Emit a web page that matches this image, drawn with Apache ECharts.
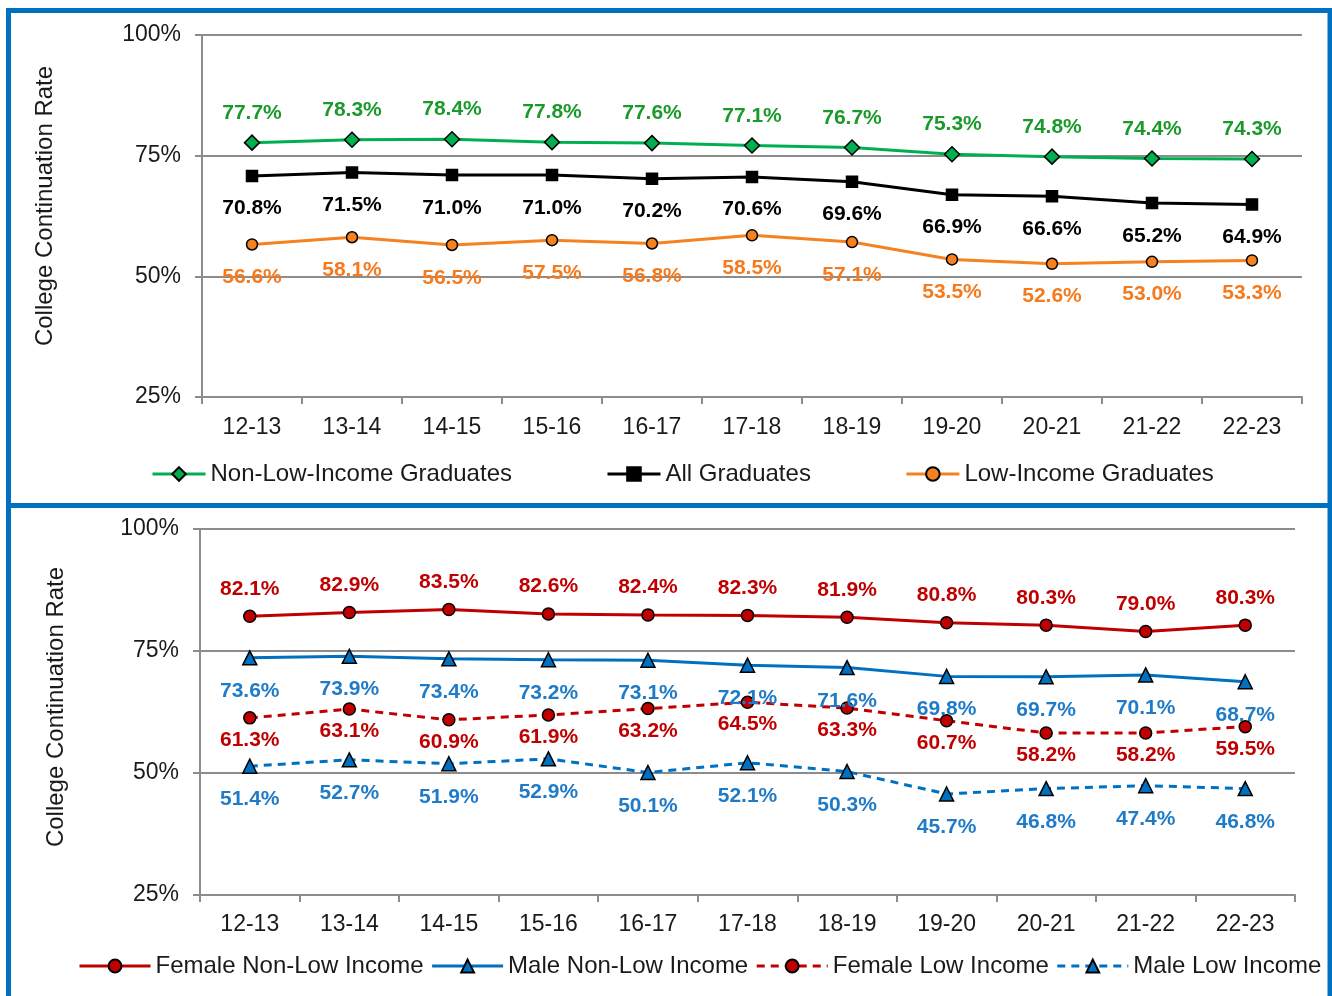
<!DOCTYPE html>
<html><head><meta charset="utf-8">
<script src="https://cdn.jsdelivr.net/npm/echarts@6/dist/echarts.min.js"></script>
<style>html,body{margin:0;padding:0;background:#fff}#c{width:1332px;height:996px}</style>
</head><body><div id="c"></div>
<script>
const categories = ['12-13','13-14','14-15','15-16','16-17','17-18','18-19','19-20','20-21','21-22','22-23'];
const yTicks = [25, 50, 75, 100];
const nonLowIncome = [77.7,78.3,78.4,77.8,77.6,77.1,76.7,75.3,74.8,74.4,74.3];
const allGraduates = [70.8,71.5,71.0,71.0,70.2,70.6,69.6,66.9,66.6,65.2,64.9];
const lowIncome = [56.6,58.1,56.5,57.5,56.8,58.5,57.1,53.5,52.6,53.0,53.3];
const femaleNonLow = [82.1,82.9,83.5,82.6,82.4,82.3,81.9,80.8,80.3,79.0,80.3];
const maleNonLow = [73.6,73.9,73.4,73.2,73.1,72.1,71.6,69.8,69.7,70.1,68.7];
const femaleLow = [61.3,63.1,60.9,61.9,63.2,64.5,63.3,60.7,58.2,58.2,59.5];
const maleLow = [51.4,52.7,51.9,52.9,50.1,52.1,50.3,45.7,46.8,47.4,46.8];

const FONT = '"Liberation Sans", Arial, sans-serif';
const GRAY = '#8c8c8c';
const chart = echarts.init(document.getElementById('c'));

function xAxis(gi,m){
  return {type:'category', gridIndex:gi, data:categories, boundaryGap:true,
    axisLine:{lineStyle:{color:GRAY,width:2}},
    axisTick:{show:true,length:7,lineStyle:{color:GRAY,width:2}},
    axisLabel:{fontFamily:FONT,fontSize:23,color:'#1a1a1a',margin:m}};
}
function yAxis(gi,gap,shift){
  return {type:'value', gridIndex:gi, min:yTicks[0], max:yTicks[yTicks.length-1], interval:25,
    name:'College Continuation Rate', nameLocation:'middle', nameGap:gap, nameRotate:90,
    nameTextStyle:{fontFamily:FONT,fontSize:24,color:'#1a1a1a',padding:[0,0,0,shift]},
    axisLine:{show:true,lineStyle:{color:GRAY,width:2}},
    axisTick:{show:true,length:7,lineStyle:{color:GRAY,width:2}},
    splitLine:{lineStyle:{color:GRAY,width:2}},
    axisLabel:{fontFamily:FONT,fontSize:23,color:'#1a1a1a',margin:21,formatter:'{value}%'}};
}
function ser(name,data,gi,color,labelColor,symbol,size,pos,dist,dashed){
  return {name, type:'line', data, xAxisIndex:gi, yAxisIndex:gi,
    symbol, symbolSize:size, showAllSymbol:true,
    lineStyle:{color, width:3, type: dashed?[8,6]:'solid'},
    itemStyle:{color, borderColor:'#000', borderWidth:1.5},
    label:{show:true, position:pos, distance:dist, formatter:p=>p.value.toFixed(1)+'%',
      fontFamily:FONT, fontSize:21, fontWeight:'bold', color:labelColor},
    z: 3};
}

chart.setOption({
  animation:false,
  backgroundColor:'#fff',
  grid:[
    {left:202, right:30, top:35, bottom:599},
    {left:200, right:37, top:529, bottom:101}
  ],
  xAxis:[xAxis(0,19), xAxis(1,18)],
  yAxis:[yAxis(0,145,20), yAxis(1,132,10)],
  legend:[
    {data:['Non-Low-Income Graduates','All Graduates','Low-Income Graduates'],
     left:151, top:462, padding:0, itemWidth:53, itemHeight:17, itemGap:94,
     lineStyle:{width:3},
     textStyle:{fontFamily:FONT,fontSize:24,color:'#1a1a1a'}},
    {data:['Female Non-Low Income','Male Non-Low Income','Female Low Income','Male Low Income'],
     left:78, top:954, padding:0, itemWidth:71, itemHeight:16, itemGap:7,
     lineStyle:{width:3},
     textStyle:{fontFamily:FONT,fontSize:24,color:'#1a1a1a'}}
  ],
  series:[
    ser('Non-Low-Income Graduates', nonLowIncome, 0, '#00B050', '#1A9A2A', 'diamond', 15, 'top', 11),
    ser('All Graduates', allGraduates, 0, '#000000', '#000000', 'rect', 11, 'bottom', 16),
    ser('Low-Income Graduates', lowIncome, 0, '#F58220', '#F57A1E', 'circle', 11, 'bottom', 16),
    ser('Female Non-Low Income', femaleNonLow, 1, '#C00000', '#C00000', 'circle', 12, 'top', 10),
    ser('Male Non-Low Income', maleNonLow, 1, '#0070C0', '#1F7BC8', 'triangle', 14, 'bottom', 15),
    ser('Female Low Income', femaleLow, 1, '#C00000', '#C00000', 'circle', 12, 'bottom', 5, true),
    ser('Male Low Income', maleLow, 1, '#0070C0', '#1F7BC8', 'triangle', 14, 'bottom', 15, true)
  ],
  graphic:[
    {type:'rect', shape:{x:8.5,y:10.5,width:1321.5,height:495}, style:{fill:'none',stroke:'#0070C0',lineWidth:5}, z:10},
    {type:'rect', shape:{x:8.5,y:505.5,width:1321.5,height:500}, style:{fill:'none',stroke:'#0070C0',lineWidth:5}, z:10}
  ]
});
</script></body></html>
